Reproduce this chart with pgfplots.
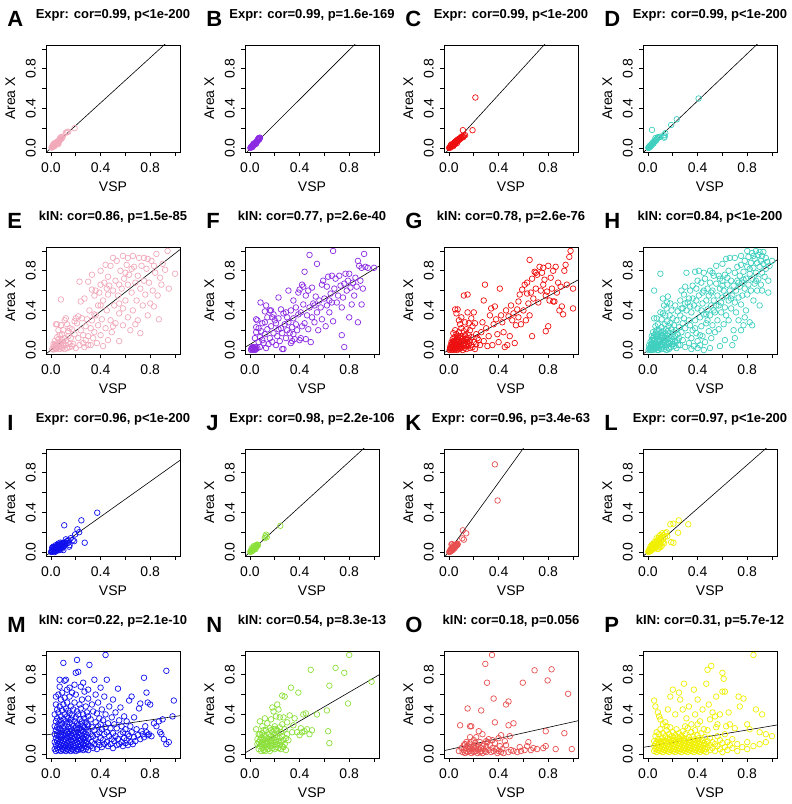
\documentclass[border=0pt]{standalone}
\usepackage{fontspec}
\setmainfont{Liberation Sans}
\usepackage{pgfplots}
\pgfplotsset{compat=1.18}
\definecolor{cA}{HTML}{F2AABB}
\definecolor{cB}{HTML}{8B2BE2}
\definecolor{cC}{HTML}{EE1010}
\definecolor{cD}{HTML}{40D0C0}
\definecolor{cI}{HTML}{1010EE}
\definecolor{cJ}{HTML}{8CE03A}
\definecolor{cK}{HTML}{E85050}
\definecolor{cL}{HTML}{F0F000}
\pgfplotsset{
 panel/.style={
  scale only axis, width=134pt, height=107pt, anchor=south west,
  xmin=-0.04, xmax=1.04, ymin=-0.04, ymax=1.04,
  xtick={0,0.2,0.4,0.6,0.8,1}, xticklabels={0.0,,0.4,,0.8,},
  ytick={0,0.2,0.4,0.6,0.8,1}, yticklabels={0.0,,0.4,,0.8,},
  xtick pos=bottom, ytick pos=left,
  tick align=outside, major tick length=4pt,
  every tick/.style={black, line width=0.7pt},
  axis line style={black, line width=0.8pt},
  ticklabel style={font=\fontsize{14}{14}\selectfont, inner sep=0pt},
  xticklabel style={anchor=north}, xticklabel shift=7pt,
  yticklabel style={rotate=90, anchor=south}, yticklabel shift=6pt,
  xlabel={VSP}, ylabel={Area X},
  xlabel style={font=\fontsize{14}{14}\selectfont, at={(axis description cs:0.5,-0.37)}, anchor=base},
  ylabel style={font=\fontsize{14}{14}\selectfont, at={(axis description cs:-0.23,0.5)}, anchor=base},
  title style={font=\bfseries\fontsize{13}{13}\selectfont, at={(axis description cs:0.5,1.19)}, anchor=base},
 },
 pts/.style={only marks, mark=o, mark size=2.8pt, color=#1, mark options={line width=0.7pt}},
 fit/.style={black, line width=0.6pt},
 let/.style={extra description/.code={\node[font=\bfseries\fontsize{22}{22}\selectfont, anchor=base west, inner sep=0pt] at (-0.29,1.17) {#1};}},
}
\begin{document}
\begin{tikzpicture}
\useasboundingbox (0,0) rectangle (792pt,804pt);
% ---------------- Row 1 ----------------
\begin{axis}[panel, at={(46pt,652pt)}, title={Expr: cor=0.99, p<1e-200}, let=A]
\addplot[pts=cA] coordinates {(0.005,0.004)(0.01,0.012)(0.012,0.02)(0.015,0.01)(0.018,0.025)(0.02,0.03)(0.022,0.018)(0.025,0.035)(0.028,0.027)(0.03,0.04)(0.032,0.05)(0.035,0.03)(0.038,0.045)(0.04,0.055)(0.042,0.038)(0.045,0.05)(0.048,0.06)(0.05,0.045)(0.052,0.065)(0.055,0.058)(0.06,0.07)(0.062,0.055)(0.065,0.075)(0.07,0.08)(0.072,0.095)(0.075,0.085)(0.078,0.1)(0.08,0.11)(0.085,0.095)(0.09,0.105)(0.095,0.115)(0.12,0.155)(0.13,0.16)(0.14,0.165)(0.19,0.2)(0.03,0.02)(0.02,0.04)(0.06,0.04)};
\addplot[fit] coordinates {(-0.04,-0.046)(1.04,1.186)};
\end{axis}
\begin{axis}[panel, at={(245pt,652pt)}, title={Expr: cor=0.99, p=1.6e-169}, let=B]
\addplot[pts=cB] coordinates {(0.003,0.002)(0.008,0.006)(0.01,0.012)(0.012,0.008)(0.015,0.018)(0.018,0.015)(0.02,0.022)(0.022,0.03)(0.025,0.024)(0.028,0.035)(0.03,0.03)(0.033,0.038)(0.036,0.042)(0.04,0.035)(0.04,0.048)(0.045,0.05)(0.048,0.055)(0.05,0.045)(0.052,0.06)(0.055,0.066)(0.058,0.07)(0.06,0.078)(0.063,0.085)(0.065,0.075)(0.068,0.09)(0.07,0.1)(0.072,0.095)(0.075,0.088)(0.078,0.1)(0.08,0.105)(0.02,0.01)(0.03,0.045)};
\addplot[fit] coordinates {(-0.04,-0.06)(1.04,1.29)};
\end{axis}
\begin{axis}[panel, at={(444pt,652pt)}, title={Expr: cor=0.99, p<1e-200}, let=C]
\addplot[pts=cC] coordinates {(0.002,0.001)(0.005,0.006)(0.008,0.004)(0.01,0.012)(0.012,0.009)(0.014,0.016)(0.016,0.012)(0.018,0.02)(0.02,0.025)(0.022,0.018)(0.024,0.03)(0.026,0.022)(0.028,0.034)(0.03,0.028)(0.032,0.038)(0.034,0.03)(0.036,0.042)(0.038,0.046)(0.04,0.036)(0.042,0.05)(0.044,0.055)(0.046,0.048)(0.048,0.06)(0.05,0.052)(0.052,0.065)(0.055,0.058)(0.058,0.07)(0.06,0.062)(0.062,0.075)(0.065,0.068)(0.068,0.08)(0.07,0.072)(0.072,0.085)(0.075,0.078)(0.078,0.09)(0.08,0.082)(0.083,0.095)(0.086,0.088)(0.09,0.1)(0.093,0.095)(0.097,0.11)(0.1,0.105)(0.105,0.115)(0.11,0.12)(0.115,0.11)(0.12,0.125)(0.13,0.13)(0.112,0.18)(0.19,0.18)(0.213,0.51)(0.015,0.03)(0.035,0.02)(0.05,0.04)(0.025,0.04)(0.065,0.05)};
\addplot[fit] coordinates {(-0.04,-0.065)(1.04,1.415)};
\end{axis}
\begin{axis}[panel, at={(643pt,652pt)}, title={Expr: cor=0.99, p<1e-200}, let=D]
\addplot[pts=cD] coordinates {(0.003,0.002)(0.006,0.008)(0.008,0.004)(0.01,0.012)(0.012,0.02)(0.015,0.01)(0.018,0.022)(0.02,0.016)(0.022,0.03)(0.025,0.025)(0.028,0.035)(0.03,0.03)(0.032,0.04)(0.035,0.05)(0.038,0.042)(0.04,0.055)(0.045,0.048)(0.048,0.06)(0.05,0.07)(0.055,0.065)(0.06,0.08)(0.065,0.075)(0.07,0.09)(0.075,0.1)(0.08,0.11)(0.085,0.105)(0.09,0.11)(0.1,0.115)(0.13,0.13)(0.135,0.115)(0.14,0.15)(0.13,0.105)(0.187,0.233)(0.232,0.29)(0.408,0.5)(0.032,0.183)(0.06,0.1)};
\addplot[fit] coordinates {(-0.04,-0.048)(1.04,1.238)};
\end{axis}
% ---------------- Row 2 ----------------
\begin{axis}[panel, at={(46pt,450pt)}, title={kIN: cor=0.86, p=1.5e-85}, let=E]
\addplot[pts=cA] coordinates {(0.01,0.01)(0.02,0.005)(0.02,0.03)(0.03,0.02)(0.03,0.05)(0.04,0.01)(0.04,0.04)(0.05,0.02)(0.05,0.07)(0.06,0.03)(0.06,0.05)(0.07,0.01)(0.07,0.08)(0.08,0.03)(0.08,0.06)(0.09,0.02)(0.09,0.1)(0.1,0.04)(0.1,0.07)(0.11,0.01)(0.11,0.12)(0.12,0.05)(0.12,0.09)(0.13,0.02)(0.14,0.14)(0.15,0.06)(0.04,0.26)(0.05,0.26)(0.06,0.2)(0.05,0.13)(0.07,0.15)(0.08,0.25)(0.03,0.09)(0.06,0.11)(0.02,0.06)(0.09,0.16)(0.1,0.2)(0.11,0.3)(0.13,0.26)(0.08,0.51)(0.14,0.19)(0.15,0.03)(0.16,0.12)(0.17,0.21)(0.18,0.06)(0.19,0.16)(0.2,0.32)(0.2,0.02)(0.21,0.27)(0.22,0.12)(0.23,0.69)(0.23,0.05)(0.24,0.49)(0.24,0.2)(0.25,0.32)(0.26,0.15)(0.27,0.52)(0.27,0.03)(0.28,0.24)(0.28,0.1)(0.29,0.31)(0.3,0.14)(0.3,0.69)(0.31,0.4)(0.32,0.05)(0.32,0.22)(0.33,0.76)(0.33,0.3)(0.34,0.12)(0.35,0.55)(0.35,0.18)(0.36,0.6)(0.36,0.35)(0.37,0.07)(0.38,0.45)(0.38,0.25)(0.39,0.58)(0.4,0.15)(0.4,0.66)(0.41,0.31)(0.42,0.04)(0.42,0.5)(0.43,0.68)(0.44,0.22)(0.44,0.86)(0.45,0.4)(0.46,0.56)(0.46,0.1)(0.47,0.65)(0.48,0.3)(0.48,0.85)(0.49,0.18)(0.5,0.6)(0.5,0.93)(0.51,0.45)(0.52,0.7)(0.52,0.27)(0.53,0.9)(0.54,0.55)(0.55,0.09)(0.55,0.37)(0.56,0.8)(0.57,0.62)(0.58,0.42)(0.58,0.25)(0.59,0.72)(0.6,0.5)(0.61,0.86)(0.62,0.33)(0.62,0.66)(0.63,0.76)(0.64,0.2)(0.65,0.58)(0.66,0.95)(0.66,0.4)(0.67,0.84)(0.68,0.68)(0.69,0.5)(0.7,0.75)(0.7,0.3)(0.71,0.93)(0.72,0.17)(0.72,0.62)(0.73,0.85)(0.74,0.45)(0.75,0.7)(0.76,0.56)(0.77,0.82)(0.78,0.35)(0.79,0.68)(0.8,0.47)(0.81,0.9)(0.82,0.6)(0.83,0.44)(0.84,0.78)(0.85,0.97)(0.86,0.55)(0.87,0.31)(0.88,0.73)(0.89,0.66)(0.9,0.87)(0.92,0.81)(0.94,1.0)(0.95,0.62)(1.0,0.77)(0.35,0.36)(0.45,0.62)(0.55,0.66)(0.6,0.78)(0.65,0.82)(0.75,0.93)(0.5,0.24)(0.4,0.45)(0.3,0.05)(0.17,0.04)(0.22,0.34)(0.26,0.07)(0.15,0.22)(0.12,0.32)(0.19,0.29)(0.62,0.93)(0.55,0.47)(0.68,0.26)(0.78,0.92)(0.83,0.85)(0.46,0.74)(0.33,0.61)(0.4,0.8)(0.58,0.95)};
\addplot[fit] coordinates {(-0.04,-0.039)(1.04,1.014)};
\end{axis}
\begin{axis}[panel, at={(245pt,450pt)}, title={kIN: cor=0.77, p=2.6e-40}, let=F]
\addplot[pts=cB] coordinates {(0.01,0.01)(0.015,0.02)(0.02,0.005)(0.02,0.015)(0.025,0.025)(0.03,0.01)(0.03,0.02)(0.035,0.005)(0.04,0.015)(0.045,0.03)(0.05,0.01)(0.06,0.02)(0.02,0.03)(0.01,0.0)(0.04,0.0)(0.04,0.12)(0.05,0.31)(0.05,0.18)(0.06,0.3)(0.07,0.08)(0.07,0.22)(0.08,0.13)(0.085,0.48)(0.09,0.19)(0.1,0.1)(0.1,0.27)(0.11,0.07)(0.12,0.39)(0.12,0.16)(0.13,0.45)(0.13,0.02)(0.14,0.21)(0.14,0.33)(0.15,0.06)(0.16,0.12)(0.16,0.4)(0.17,0.24)(0.18,0.08)(0.19,0.36)(0.19,0.17)(0.2,0.3)(0.21,0.05)(0.21,0.27)(0.22,0.14)(0.23,0.53)(0.23,0.32)(0.24,0.09)(0.25,0.41)(0.25,0.22)(0.26,0.17)(0.27,0.01)(0.27,0.37)(0.28,0.26)(0.29,0.12)(0.3,0.33)(0.3,0.2)(0.31,0.6)(0.31,0.28)(0.32,0.17)(0.33,0.4)(0.33,0.07)(0.34,0.23)(0.35,0.5)(0.35,0.32)(0.36,0.11)(0.37,0.26)(0.37,0.43)(0.38,0.2)(0.39,0.58)(0.39,0.36)(0.4,0.61)(0.4,0.1)(0.41,0.38)(0.42,0.66)(0.42,0.24)(0.43,0.64)(0.43,0.46)(0.44,0.79)(0.44,0.27)(0.45,0.55)(0.45,0.11)(0.46,0.35)(0.47,0.6)(0.47,0.21)(0.48,0.96)(0.48,0.43)(0.49,0.08)(0.5,0.33)(0.5,0.63)(0.51,0.47)(0.52,0.28)(0.53,0.54)(0.54,0.87)(0.54,0.38)(0.55,0.2)(0.56,0.5)(0.57,0.43)(0.58,0.31)(0.59,0.7)(0.6,0.52)(0.61,0.24)(0.62,0.64)(0.62,0.45)(0.63,0.74)(0.64,0.38)(0.65,0.57)(0.66,0.75)(0.66,0.48)(0.67,1.0)(0.67,0.29)(0.68,0.62)(0.69,0.72)(0.7,0.48)(0.71,0.55)(0.72,0.75)(0.73,0.65)(0.74,0.15)(0.74,0.43)(0.75,0.53)(0.76,0.03)(0.76,0.67)(0.77,0.77)(0.78,0.6)(0.79,0.7)(0.8,0.33)(0.8,0.77)(0.81,0.63)(0.82,0.46)(0.83,0.68)(0.84,0.55)(0.85,0.73)(0.86,0.64)(0.87,0.28)(0.87,0.9)(0.88,0.85)(0.89,0.7)(0.9,0.46)(0.9,0.83)(0.91,0.62)(0.92,0.97)(0.93,0.84)(0.95,0.83)(1.0,0.83)(0.05,0.23)(0.08,0.03)(0.12,0.28)(0.17,0.4)(0.26,0.01)(0.34,0.09)(0.41,0.12)(0.52,0.45)(0.58,0.66)(0.64,0.5)(0.35,0.16)(0.29,0.38)(0.23,0.21)(0.18,0.33)};
\addplot[fit] coordinates {(-0.04,0.027)(1.04,0.847)};
\end{axis}
\begin{axis}[panel, at={(444pt,450pt)}, title={kIN: cor=0.78, p=2.6e-76}, let=G]
\addplot[pts=cC] coordinates {(0.005,0.0)(0.01,0.01)(0.01,0.03)(0.015,0.05)(0.02,0.0)(0.02,0.02)(0.02,0.08)(0.025,0.04)(0.03,0.01)(0.03,0.06)(0.03,0.11)(0.035,0.03)(0.04,0.0)(0.04,0.05)(0.04,0.09)(0.045,0.02)(0.045,0.13)(0.05,0.04)(0.05,0.07)(0.055,0.01)(0.055,0.1)(0.06,0.03)(0.06,0.06)(0.065,0.0)(0.065,0.12)(0.07,0.05)(0.07,0.08)(0.075,0.02)(0.075,0.14)(0.08,0.04)(0.08,0.1)(0.085,0.01)(0.085,0.07)(0.09,0.05)(0.09,0.12)(0.095,0.02)(0.1,0.08)(0.1,0.03)(0.105,0.11)(0.11,0.0)(0.11,0.06)(0.115,0.13)(0.12,0.04)(0.12,0.09)(0.125,0.02)(0.13,0.07)(0.13,0.15)(0.135,0.05)(0.14,0.1)(0.14,0.01)(0.145,0.08)(0.15,0.04)(0.155,0.12)(0.16,0.06)(0.17,0.02)(0.17,0.09)(0.18,0.05)(0.18,0.13)(0.19,0.03)(0.2,0.08)(0.21,0.01)(0.22,0.06)(0.035,0.17)(0.05,0.2)(0.06,0.16)(0.08,0.18)(0.1,0.22)(0.12,0.19)(0.025,0.07)(0.035,0.09)(0.015,0.02)(0.07,0.11)(0.095,0.14)(0.06,0.09)(0.045,0.06)(0.085,0.03)(0.125,0.11)(0.16,0.15)(0.05,0.41)(0.07,0.41)(0.06,0.37)(0.08,0.3)(0.09,0.26)(0.1,0.33)(0.12,0.55)(0.13,0.28)(0.14,0.21)(0.15,0.56)(0.15,0.38)(0.16,0.27)(0.17,0.2)(0.18,0.32)(0.19,0.24)(0.2,0.38)(0.21,0.27)(0.22,0.16)(0.23,0.12)(0.24,0.1)(0.25,0.05)(0.26,0.18)(0.27,0.28)(0.28,0.5)(0.28,0.09)(0.29,0.66)(0.3,0.22)(0.31,0.04)(0.32,0.14)(0.33,0.35)(0.34,0.42)(0.35,0.05)(0.36,0.26)(0.37,0.44)(0.38,0.31)(0.39,0.16)(0.4,0.08)(0.41,0.62)(0.42,0.35)(0.43,0.28)(0.44,0.18)(0.45,0.03)(0.46,0.4)(0.47,0.05)(0.48,0.34)(0.49,0.14)(0.5,0.45)(0.51,0.3)(0.52,0.37)(0.53,0.07)(0.54,0.25)(0.55,0.41)(0.56,0.49)(0.57,0.56)(0.58,0.26)(0.59,0.61)(0.6,0.4)(0.61,0.66)(0.62,0.3)(0.63,0.57)(0.64,0.47)(0.65,0.91)(0.65,0.35)(0.66,0.58)(0.67,0.14)(0.67,0.72)(0.68,0.52)(0.69,0.79)(0.7,0.62)(0.71,0.76)(0.72,0.48)(0.73,0.84)(0.74,0.6)(0.75,0.78)(0.76,0.66)(0.77,0.71)(0.78,0.19)(0.78,0.55)(0.79,0.59)(0.8,0.24)(0.8,0.85)(0.81,0.5)(0.82,0.73)(0.83,0.62)(0.84,0.8)(0.85,0.49)(0.86,0.84)(0.87,0.58)(0.88,0.68)(0.89,0.4)(0.9,0.64)(0.91,0.44)(0.92,0.36)(0.93,0.8)(0.94,0.86)(0.95,0.66)(0.97,0.94)(0.98,1.0)(1.0,0.42)(1.0,0.62)(0.76,0.83)(0.63,0.68)(0.56,0.33)(0.7,0.78)(0.84,0.49)};
\addplot[fit] coordinates {(-0.04,-0.027)(1.04,0.707)};
\end{axis}
\begin{axis}[panel, at={(643pt,450pt)}, title={kIN: cor=0.84, p<1e-200}, let=H]
\addplot[pts=cD] coordinates {(0.005,0.0)(0.01,0.02)(0.01,0.05)(0.015,0.01)(0.02,0.03)(0.02,0.08)(0.025,0.0)(0.025,0.05)(0.03,0.02)(0.03,0.1)(0.035,0.04)(0.035,0.07)(0.04,0.0)(0.04,0.12)(0.045,0.03)(0.045,0.06)(0.05,0.09)(0.05,0.15)(0.055,0.01)(0.055,0.04)(0.06,0.07)(0.06,0.11)(0.065,0.18)(0.065,0.02)(0.07,0.05)(0.07,0.13)(0.075,0.09)(0.075,0.0)(0.08,0.03)(0.08,0.16)(0.085,0.06)(0.085,0.11)(0.09,0.2)(0.09,0.02)(0.095,0.08)(0.095,0.14)(0.1,0.04)(0.1,0.1)(0.105,0.17)(0.105,0.01)(0.11,0.06)(0.11,0.23)(0.115,0.12)(0.115,0.03)(0.12,0.08)(0.12,0.15)(0.125,0.19)(0.125,0.05)(0.13,0.1)(0.13,0.01)(0.135,0.13)(0.135,0.26)(0.14,0.07)(0.14,0.17)(0.145,0.03)(0.145,0.21)(0.15,0.11)(0.15,0.05)(0.155,0.15)(0.155,0.29)(0.16,0.08)(0.16,0.19)(0.165,0.02)(0.165,0.24)(0.17,0.12)(0.17,0.06)(0.175,0.17)(0.18,0.09)(0.18,0.27)(0.185,0.03)(0.19,0.14)(0.19,0.21)(0.195,0.06)(0.2,0.11)(0.2,0.32)(0.205,0.18)(0.21,0.04)(0.21,0.25)(0.215,0.08)(0.22,0.14)(0.225,0.2)(0.23,0.02)(0.23,0.3)(0.235,0.1)(0.24,0.16)(0.245,0.05)(0.25,0.23)(0.25,0.12)(0.03,0.14)(0.04,0.18)(0.06,0.24)(0.07,0.2)(0.05,0.32)(0.08,0.26)(0.1,0.38)(0.11,0.31)(0.12,0.37)(0.13,0.45)(0.14,0.35)(0.1,0.77)(0.05,0.6)(0.07,0.32)(0.12,0.52)(0.15,0.42)(0.16,0.54)(0.18,0.47)(0.02,0.0)(0.045,0.1)(0.065,0.14)(0.085,0.0)(0.095,0.04)(0.125,0.09)(0.15,0.0)(0.17,0.01)(0.2,0.06)(0.22,0.09)(0.175,0.35)(0.19,0.4)(0.155,0.48)(0.06,0.03)(0.03,0.06)(0.11,0.14)(0.14,0.12)(0.26,0.35)(0.26,0.05)(0.27,0.42)(0.27,0.18)(0.28,0.27)(0.28,0.1)(0.29,0.56)(0.29,0.32)(0.3,0.03)(0.3,0.22)(0.31,0.4)(0.31,0.78)(0.32,0.15)(0.32,0.48)(0.33,0.3)(0.33,0.07)(0.34,0.6)(0.34,0.25)(0.35,0.38)(0.35,0.12)(0.36,0.52)(0.36,0.2)(0.37,0.04)(0.37,0.45)(0.38,0.79)(0.38,0.3)(0.39,0.62)(0.39,0.17)(0.4,0.42)(0.4,0.09)(0.41,0.8)(0.41,0.55)(0.42,0.33)(0.42,0.05)(0.43,0.68)(0.43,0.24)(0.44,0.47)(0.44,0.14)(0.45,0.6)(0.45,0.36)(0.46,0.72)(0.46,0.08)(0.47,0.5)(0.47,0.27)(0.48,0.41)(0.48,0.62)(0.49,0.19)(0.49,0.55)(0.5,0.35)(0.5,0.68)(0.51,0.45)(0.51,0.12)(0.52,0.6)(0.52,0.25)(0.53,0.75)(0.53,0.5)(0.54,0.38)(0.54,0.18)(0.55,0.67)(0.55,0.45)(0.56,0.55)(0.56,0.3)(0.57,0.75)(0.57,0.21)(0.58,0.04)(0.58,0.62)(0.59,0.48)(0.59,0.38)(0.6,0.7)(0.6,0.53)(0.61,0.26)(0.61,0.6)(0.62,0.76)(0.62,0.43)(0.63,0.55)(0.63,0.35)(0.64,0.66)(0.64,0.73)(0.65,0.5)(0.65,0.3)(0.66,0.93)(0.66,0.6)(0.67,0.42)(0.67,0.7)(0.68,0.05)(0.68,0.55)(0.69,0.65)(0.69,0.2)(0.7,0.78)(0.7,0.48)(0.71,0.6)(0.71,0.38)(0.72,0.7)(0.72,0.84)(0.73,0.53)(0.73,0.3)(0.74,0.64)(0.74,0.75)(0.75,0.46)(0.75,0.86)(0.76,0.68)(0.76,0.55)(0.77,0.25)(0.77,0.79)(0.78,0.62)(0.78,0.9)(0.79,0.72)(0.79,0.4)(0.8,0.84)(0.8,0.56)(0.81,0.66)(0.81,0.94)(0.82,0.28)(0.82,0.77)(0.83,0.88)(0.83,0.6)(0.84,0.98)(0.84,0.72)(0.85,0.5)(0.85,0.83)(0.86,0.92)(0.86,0.67)(0.87,1.0)(0.87,0.78)(0.88,0.88)(0.88,0.6)(0.89,0.96)(0.89,0.72)(0.9,0.84)(0.9,0.99)(0.91,0.9)(0.91,0.66)(0.92,0.78)(0.92,0.95)(0.93,0.87)(0.94,0.74)(0.95,0.93)(0.95,0.82)(0.96,0.89)(0.97,0.7)(0.98,0.85)(1.0,0.9)(0.6,0.87)(0.63,0.92)(0.55,0.85)(0.5,0.8)(0.45,0.78)(0.7,0.93)(0.75,0.95)(0.8,1.0)(0.85,0.95)(0.93,0.99)(0.28,0.42)(0.33,0.52)(0.4,0.7)(0.44,0.58)(0.3,0.47)(0.36,0.65)(0.52,0.78)(0.58,0.72)(0.65,0.8)(0.35,0.01)(0.4,0.02)(0.45,0.0)(0.5,0.02)(0.42,0.15)(0.38,0.22)(0.62,0.1)(0.7,0.12)(0.75,0.2)(0.78,0.33)(0.84,0.25)(0.9,0.45)(0.97,0.58)(0.48,0.3)(0.53,0.4)(0.57,0.45)(0.26,0.5)(0.24,0.39)(0.22,0.45)(0.27,0.6)(0.3,0.64)(0.34,0.44)(0.39,0.5)(0.43,0.4)(0.47,0.36)(0.51,0.58)(0.6,0.65)(0.67,0.52)(0.73,0.68)(0.77,0.71)(0.82,0.82)(0.87,0.7)(0.92,0.6)};
\addplot[fit] coordinates {(-0.04,-0.04)(1.04,0.91)};
\end{axis}
% ---------------- Row 3 ----------------
\begin{axis}[panel, at={(46pt,248pt)}, title={Expr: cor=0.96, p<1e-200}, let=I]
\addplot[pts=cI] coordinates {(0.002,0.0)(0.005,0.01)(0.008,0.003)(0.01,0.02)(0.012,0.008)(0.015,0.04)(0.018,0.015)(0.02,0.03)(0.022,0.05)(0.025,0.01)(0.028,0.025)(0.03,0.045)(0.032,0.02)(0.035,0.035)(0.038,0.055)(0.04,0.01)(0.042,0.04)(0.045,0.025)(0.048,0.06)(0.05,0.045)(0.052,0.03)(0.055,0.055)(0.058,0.07)(0.06,0.04)(0.062,0.02)(0.065,0.06)(0.068,0.075)(0.07,0.05)(0.072,0.035)(0.075,0.065)(0.078,0.08)(0.08,0.055)(0.082,0.045)(0.085,0.07)(0.088,0.09)(0.09,0.06)(0.093,0.08)(0.095,0.05)(0.1,0.075)(0.1,0.02)(0.105,0.09)(0.11,0.065)(0.115,0.1)(0.12,0.128)(0.125,0.085)(0.13,0.11)(0.135,0.09)(0.14,0.12)(0.147,0.054)(0.15,0.07)(0.107,0.27)(0.187,0.11)(0.195,0.178)(0.213,0.229)(0.227,0.2)(0.245,0.32)(0.272,0.094)(0.373,0.397)(0.16,0.14)(0.175,0.12)(0.01,0.045)(0.02,0.055)(0.04,0.07)(0.06,0.085)(0.075,0.095)(0.03,0.0)(0.05,0.015)(0.07,0.02)(0.09,0.035)};
\addplot[fit] coordinates {(-0.04,-0.036)(1.04,0.926)};
\end{axis}
\begin{axis}[panel, at={(245pt,248pt)}, title={Expr: cor=0.98, p=2.2e-106}, let=J]
\addplot[pts=cJ] coordinates {(0.003,0.002)(0.006,0.01)(0.01,0.005)(0.012,0.015)(0.015,0.02)(0.018,0.01)(0.02,0.025)(0.022,0.03)(0.025,0.018)(0.028,0.035)(0.03,0.028)(0.033,0.04)(0.035,0.05)(0.038,0.035)(0.04,0.045)(0.042,0.06)(0.045,0.05)(0.048,0.065)(0.05,0.055)(0.053,0.07)(0.055,0.06)(0.058,0.075)(0.06,0.065)(0.065,0.07)(0.015,0.04)(0.03,0.06)(0.045,0.03)(0.12,0.14)(0.125,0.16)(0.13,0.175)(0.135,0.15)(0.245,0.265)};
\addplot[fit] coordinates {(-0.04,-0.046)(1.04,1.186)};
\end{axis}
\begin{axis}[panel, at={(444pt,248pt)}, title={Expr: cor=0.96, p=3.4e-63}, let=K]
\addplot[pts=cK] coordinates {(0.003,0.0)(0.006,0.008)(0.01,0.004)(0.012,0.015)(0.015,0.01)(0.018,0.025)(0.02,0.077)(0.022,0.02)(0.025,0.08)(0.028,0.03)(0.03,0.045)(0.032,0.025)(0.035,0.05)(0.038,0.04)(0.04,0.06)(0.042,0.035)(0.045,0.055)(0.048,0.065)(0.05,0.05)(0.052,0.07)(0.055,0.06)(0.058,0.075)(0.06,0.065)(0.062,0.08)(0.065,0.07)(0.068,0.085)(0.07,0.075)(0.107,0.138)(0.112,0.219)(0.12,0.125)(0.139,0.189)(0.37,0.885)(0.392,0.52)(0.015,0.03)(0.025,0.015)(0.035,0.07)};
\addplot[fit] coordinates {(-0.04,-0.059)(1.04,1.809)};
\end{axis}
\begin{axis}[panel, at={(643pt,248pt)}, title={Expr: cor=0.97, p<1e-200}, let=L]
\addplot[pts=cL] coordinates {(0.003,0.0)(0.005,0.01)(0.008,0.005)(0.01,0.02)(0.012,0.012)(0.015,0.03)(0.018,0.008)(0.02,0.025)(0.022,0.04)(0.025,0.015)(0.028,0.035)(0.03,0.05)(0.032,0.025)(0.035,0.045)(0.038,0.06)(0.04,0.03)(0.042,0.055)(0.045,0.07)(0.048,0.04)(0.05,0.06)(0.052,0.08)(0.055,0.05)(0.058,0.075)(0.06,0.09)(0.062,0.06)(0.065,0.1)(0.068,0.07)(0.07,0.085)(0.072,0.11)(0.075,0.065)(0.078,0.095)(0.08,0.12)(0.082,0.08)(0.085,0.14)(0.088,0.1)(0.09,0.16)(0.092,0.07)(0.095,0.13)(0.1,0.17)(0.1,0.05)(0.105,0.11)(0.11,0.15)(0.115,0.19)(0.12,0.13)(0.125,0.17)(0.13,0.09)(0.135,0.15)(0.14,0.19)(0.15,0.2)(0.155,0.16)(0.187,0.1)(0.205,0.094)(0.18,0.28)(0.205,0.286)(0.243,0.195)(0.248,0.32)(0.325,0.28)(0.02,0.055)(0.04,0.08)(0.06,0.04)(0.08,0.03)(0.1,0.08)(0.07,0.14)(0.05,0.1)(0.03,0.07)(0.09,0.045)(0.11,0.06)(0.12,0.1)};
\addplot[fit] coordinates {(-0.04,-0.044)(1.04,1.144)};
\end{axis}
% ---------------- Row 4 ----------------
\begin{axis}[panel, at={(46pt,46pt)}, title={kIN: cor=0.22, p=2.1e-10}, let=M]
\addplot[pts=cI] coordinates {(0.03,0.05)(0.03,0.12)(0.03,0.2)(0.03,0.28)(0.03,0.4)(0.04,0.03)(0.04,0.09)(0.04,0.16)(0.04,0.24)(0.04,0.33)(0.04,0.5)(0.04,0.58)(0.05,0.06)(0.05,0.13)(0.05,0.19)(0.05,0.27)(0.05,0.36)(0.05,0.45)(0.06,0.04)(0.06,0.1)(0.06,0.15)(0.06,0.22)(0.06,0.3)(0.06,0.42)(0.06,0.6)(0.07,0.07)(0.07,0.12)(0.07,0.18)(0.07,0.25)(0.07,0.34)(0.07,0.48)(0.07,0.75)(0.08,0.03)(0.08,0.09)(0.08,0.14)(0.08,0.2)(0.08,0.29)(0.08,0.38)(0.08,0.55)(0.09,0.05)(0.09,0.11)(0.09,0.17)(0.09,0.23)(0.09,0.31)(0.09,0.44)(0.09,0.62)(0.1,0.04)(0.1,0.08)(0.1,0.13)(0.1,0.19)(0.1,0.26)(0.1,0.35)(0.1,0.5)(0.1,0.92)(0.11,0.06)(0.11,0.1)(0.11,0.15)(0.11,0.21)(0.11,0.28)(0.11,0.4)(0.11,0.57)(0.11,0.74)(0.12,0.03)(0.12,0.09)(0.12,0.14)(0.12,0.18)(0.12,0.24)(0.12,0.33)(0.12,0.46)(0.13,0.05)(0.13,0.11)(0.13,0.16)(0.13,0.22)(0.13,0.3)(0.13,0.38)(0.13,0.52)(0.13,0.65)(0.14,0.04)(0.14,0.08)(0.14,0.13)(0.14,0.2)(0.14,0.27)(0.14,0.36)(0.14,0.44)(0.15,0.06)(0.15,0.1)(0.15,0.17)(0.15,0.23)(0.15,0.32)(0.15,0.41)(0.15,0.58)(0.16,0.03)(0.16,0.09)(0.16,0.14)(0.16,0.19)(0.16,0.26)(0.16,0.35)(0.16,0.48)(0.17,0.05)(0.17,0.12)(0.17,0.18)(0.17,0.24)(0.17,0.3)(0.17,0.39)(0.17,0.62)(0.18,0.04)(0.18,0.08)(0.18,0.15)(0.18,0.21)(0.18,0.28)(0.18,0.45)(0.19,0.06)(0.19,0.11)(0.19,0.17)(0.19,0.23)(0.19,0.33)(0.19,0.52)(0.19,0.7)(0.2,0.03)(0.2,0.09)(0.2,0.14)(0.2,0.2)(0.2,0.27)(0.2,0.37)(0.2,0.6)(0.21,0.05)(0.21,0.12)(0.21,0.18)(0.21,0.25)(0.21,0.31)(0.21,0.43)(0.21,0.95)(0.22,0.04)(0.22,0.1)(0.22,0.16)(0.22,0.22)(0.22,0.29)(0.22,0.4)(0.22,0.83)(0.23,0.07)(0.23,0.13)(0.23,0.19)(0.23,0.26)(0.23,0.35)(0.23,0.5)(0.24,0.05)(0.24,0.09)(0.24,0.15)(0.24,0.21)(0.24,0.3)(0.24,0.46)(0.24,0.68)(0.25,0.06)(0.25,0.12)(0.25,0.18)(0.25,0.24)(0.25,0.33)(0.25,0.55)(0.26,0.04)(0.26,0.1)(0.26,0.16)(0.26,0.23)(0.26,0.28)(0.26,0.4)(0.27,0.08)(0.27,0.14)(0.27,0.2)(0.27,0.27)(0.27,0.36)(0.27,0.63)(0.28,0.05)(0.28,0.11)(0.28,0.17)(0.28,0.25)(0.28,0.32)(0.28,0.48)(0.29,0.07)(0.29,0.13)(0.29,0.19)(0.29,0.3)(0.29,0.42)(0.3,0.04)(0.3,0.1)(0.3,0.16)(0.3,0.22)(0.3,0.29)(0.3,0.38)(0.3,0.56)(0.31,0.9)(0.32,0.08)(0.32,0.2)(0.32,0.35)(0.33,0.12)(0.33,0.27)(0.33,0.5)(0.34,0.06)(0.34,0.18)(0.34,0.43)(0.35,0.1)(0.35,0.24)(0.35,0.75)(0.36,0.15)(0.36,0.32)(0.36,0.6)(0.37,0.05)(0.37,0.2)(0.37,0.41)(0.38,0.12)(0.38,0.28)(0.38,0.52)(0.39,0.09)(0.39,0.22)(0.39,0.36)(0.4,0.16)(0.4,0.3)(0.4,0.67)(0.41,0.07)(0.41,0.25)(0.41,0.45)(0.42,0.14)(0.42,0.34)(0.43,0.1)(0.43,0.2)(0.43,0.58)(0.44,1.0)(0.44,0.27)(0.44,0.4)(0.45,0.12)(0.45,0.22)(0.45,0.75)(0.46,0.08)(0.46,0.31)(0.47,0.18)(0.47,0.48)(0.48,0.1)(0.48,0.26)(0.49,0.15)(0.49,0.37)(0.5,0.06)(0.5,0.21)(0.5,0.55)(0.51,0.13)(0.51,0.3)(0.52,0.18)(0.52,0.42)(0.53,0.09)(0.53,0.26)(0.54,0.15)(0.54,0.66)(0.55,0.1)(0.55,0.34)(0.56,0.2)(0.56,0.47)(0.57,0.12)(0.57,0.28)(0.58,0.08)(0.58,0.22)(0.59,0.16)(0.59,0.38)(0.6,0.11)(0.6,0.25)(0.61,0.14)(0.61,0.33)(0.62,0.09)(0.62,0.2)(0.63,0.18)(0.63,0.54)(0.64,0.12)(0.64,0.28)(0.65,0.22)(0.65,0.58)(0.66,0.1)(0.67,0.17)(0.67,0.37)(0.68,0.13)(0.69,0.25)(0.7,0.19)(0.71,0.46)(0.72,0.51)(0.72,0.15)(0.73,0.23)(0.74,0.2)(0.75,0.77)(0.75,0.17)(0.76,0.28)(0.77,0.22)(0.77,0.62)(0.78,0.19)(0.78,0.52)(0.79,0.2)(0.8,0.5)(0.81,0.18)(0.83,0.31)(0.85,0.28)(0.87,0.33)(0.88,0.22)(0.89,0.2)(0.9,0.35)(0.91,0.15)(0.93,0.84)(0.93,0.1)(0.95,0.12)(0.98,0.38)(0.99,0.54)(0.2,0.82)(0.15,0.67)(0.12,0.75)(0.07,0.68)(0.26,0.72)(0.3,0.65)};
\addplot[fit] coordinates {(-0.04,0.193)(1.04,0.387)};
\end{axis}
\begin{axis}[panel, at={(245pt,46pt)}, title={kIN: cor=0.54, p=8.3e-13}, let=N]
\addplot[pts=cJ] coordinates {(0.05,0.25)(0.06,0.1)(0.06,0.15)(0.07,0.05)(0.07,0.12)(0.07,0.2)(0.08,0.08)(0.08,0.14)(0.08,0.33)(0.09,0.03)(0.09,0.1)(0.09,0.17)(0.1,0.06)(0.1,0.12)(0.1,0.21)(0.11,0.09)(0.11,0.15)(0.11,0.04)(0.12,0.11)(0.12,0.18)(0.12,0.36)(0.13,0.07)(0.13,0.13)(0.13,0.24)(0.14,0.1)(0.14,0.16)(0.14,0.31)(0.15,0.05)(0.15,0.12)(0.15,0.2)(0.16,0.08)(0.16,0.14)(0.16,0.26)(0.17,0.11)(0.17,0.18)(0.17,0.35)(0.18,0.06)(0.18,0.13)(0.18,0.22)(0.18,0.47)(0.19,0.09)(0.19,0.16)(0.19,0.43)(0.2,0.12)(0.2,0.19)(0.2,0.28)(0.21,0.07)(0.21,0.14)(0.21,0.38)(0.22,0.1)(0.22,0.17)(0.22,0.24)(0.22,0.5)(0.23,0.06)(0.23,0.13)(0.23,0.21)(0.23,0.45)(0.24,0.09)(0.24,0.16)(0.24,0.37)(0.25,0.12)(0.25,0.22)(0.26,0.08)(0.26,0.18)(0.26,0.59)(0.27,0.14)(0.27,0.37)(0.28,0.58)(0.28,0.1)(0.28,0.25)(0.29,0.04)(0.3,0.2)(0.3,0.32)(0.31,0.14)(0.32,0.39)(0.33,0.67)(0.34,0.22)(0.35,0.29)(0.36,0.36)(0.38,0.22)(0.39,0.62)(0.4,0.19)(0.41,0.26)(0.42,0.22)(0.43,0.4)(0.44,0.23)(0.45,0.41)(0.46,0.25)(0.48,0.2)(0.49,0.85)(0.5,0.24)(0.54,0.4)(0.62,0.44)(0.63,0.23)(0.64,0.11)(0.64,0.69)(0.69,0.87)(0.76,0.82)(0.79,0.51)(0.8,1.0)(0.98,0.73)(0.1,0.28)(0.12,0.03)(0.14,0.05)(0.16,0.03)(0.19,0.25)(0.21,0.25)(0.25,0.05)(0.27,0.07)(0.13,0.18)(0.15,0.15)(0.17,0.24)(0.2,0.05)(0.24,0.27)(0.08,0.2)(0.11,0.24)(0.26,0.3)(0.29,0.16)};
\addplot[fit] coordinates {(-0.04,0.011)(1.04,0.799)};
\end{axis}
\begin{axis}[panel, at={(444pt,46pt)}, title={kIN: cor=0.18, p=0.056}, let=O]
\addplot[pts=cK] coordinates {(0.08,0.03)(0.1,0.06)(0.11,0.02)(0.12,0.09)(0.12,0.04)(0.13,0.1)(0.13,0.01)(0.14,0.06)(0.14,0.03)(0.15,0.08)(0.15,0.02)(0.16,0.05)(0.16,0.1)(0.17,0.03)(0.17,0.07)(0.18,0.01)(0.18,0.12)(0.19,0.05)(0.19,0.03)(0.2,0.08)(0.2,0.02)(0.21,0.06)(0.21,0.11)(0.22,0.03)(0.22,0.07)(0.23,0.01)(0.23,0.09)(0.24,0.05)(0.25,0.02)(0.25,0.12)(0.26,0.06)(0.26,0.03)(0.27,0.08)(0.27,0.01)(0.28,0.05)(0.28,0.1)(0.29,0.03)(0.3,0.07)(0.3,0.02)(0.31,0.12)(0.32,0.04)(0.33,0.09)(0.34,0.02)(0.35,0.14)(0.35,0.06)(0.36,0.03)(0.37,0.11)(0.38,0.05)(0.39,0.01)(0.4,0.16)(0.4,0.03)(0.41,0.08)(0.42,0.02)(0.43,0.05)(0.44,0.01)(0.45,0.13)(0.46,0.09)(0.48,0.02)(0.49,0.18)(0.5,0.04)(0.52,0.03)(0.55,0.02)(0.57,0.07)(0.58,0.03)(0.61,0.04)(0.63,0.08)(0.64,0.12)(0.66,0.04)(0.68,0.06)(0.71,0.05)(0.76,0.06)(0.78,0.08)(0.86,0.05)(0.99,0.05)(0.09,0.29)(0.17,0.28)(0.18,0.28)(0.24,0.23)(0.27,0.2)(0.17,0.17)(0.37,0.32)(0.48,0.29)(0.52,0.31)(0.78,0.23)(0.93,0.21)(0.15,0.46)(0.26,0.44)(0.46,0.5)(0.48,0.53)(0.36,0.56)(0.307,0.72)(0.293,0.91)(0.347,1.0)(0.595,0.72)(0.69,0.845)(0.795,0.743)(0.827,0.855)(0.96,0.608)(0.2,0.14)(0.3,0.13)(0.42,0.19)(0.22,0.17)(0.14,0.12)(0.32,0.15)};
\addplot[fit] coordinates {(-0.04,0.034)(1.04,0.336)};
\end{axis}
\begin{axis}[panel, at={(643pt,46pt)}, title={kIN: cor=0.31, p=5.7e-12}, let=P]
\addplot[pts=cL] coordinates {(0.05,0.03)(0.05,0.08)(0.05,0.13)(0.06,0.05)(0.06,0.1)(0.06,0.18)(0.07,0.02)(0.07,0.07)(0.07,0.12)(0.07,0.22)(0.08,0.04)(0.08,0.09)(0.08,0.15)(0.09,0.06)(0.09,0.11)(0.09,0.2)(0.1,0.03)(0.1,0.08)(0.1,0.13)(0.1,0.25)(0.11,0.05)(0.11,0.1)(0.11,0.16)(0.12,0.02)(0.12,0.07)(0.12,0.12)(0.12,0.21)(0.13,0.04)(0.13,0.09)(0.13,0.14)(0.14,0.06)(0.14,0.11)(0.14,0.18)(0.15,0.03)(0.15,0.08)(0.15,0.13)(0.15,0.24)(0.16,0.05)(0.16,0.1)(0.16,0.16)(0.17,0.02)(0.17,0.07)(0.17,0.12)(0.17,0.2)(0.18,0.04)(0.18,0.09)(0.18,0.15)(0.18,0.27)(0.19,0.06)(0.19,0.11)(0.19,0.18)(0.2,0.03)(0.2,0.08)(0.2,0.13)(0.2,0.22)(0.21,0.05)(0.21,0.1)(0.21,0.16)(0.22,0.02)(0.22,0.07)(0.22,0.12)(0.22,0.19)(0.23,0.04)(0.23,0.09)(0.23,0.14)(0.23,0.25)(0.24,0.06)(0.24,0.11)(0.24,0.17)(0.25,0.03)(0.25,0.08)(0.25,0.13)(0.25,0.21)(0.26,0.05)(0.26,0.1)(0.26,0.15)(0.27,0.02)(0.27,0.07)(0.27,0.12)(0.27,0.18)(0.28,0.04)(0.28,0.09)(0.28,0.14)(0.28,0.23)(0.29,0.06)(0.29,0.11)(0.29,0.16)(0.3,0.03)(0.3,0.08)(0.3,0.13)(0.3,0.2)(0.31,0.05)(0.31,0.1)(0.31,0.15)(0.32,0.02)(0.32,0.07)(0.32,0.12)(0.32,0.26)(0.33,0.04)(0.33,0.09)(0.33,0.17)(0.34,0.06)(0.34,0.11)(0.34,0.14)(0.35,0.03)(0.35,0.08)(0.35,0.13)(0.35,0.22)(0.36,0.05)(0.36,0.1)(0.36,0.18)(0.37,0.02)(0.37,0.07)(0.37,0.12)(0.38,0.04)(0.38,0.09)(0.38,0.15)(0.38,0.24)(0.39,0.06)(0.39,0.11)(0.4,0.03)(0.4,0.08)(0.4,0.13)(0.4,0.19)(0.41,0.05)(0.41,0.1)(0.41,0.16)(0.42,0.02)(0.42,0.07)(0.42,0.12)(0.43,0.04)(0.43,0.09)(0.43,0.21)(0.44,0.06)(0.44,0.14)(0.45,0.03)(0.45,0.08)(0.45,0.11)(0.46,0.05)(0.46,0.17)(0.47,0.02)(0.47,0.1)(0.48,0.07)(0.48,0.13)(0.48,0.24)(0.5,0.04)(0.5,0.09)(0.5,0.16)(0.52,0.06)(0.52,0.12)(0.54,0.03)(0.54,0.1)(0.56,0.08)(0.56,0.18)(0.58,0.05)(0.58,0.14)(0.6,0.02)(0.6,0.11)(0.62,0.07)(0.62,0.2)(0.64,0.04)(0.64,0.12)(0.66,0.09)(0.68,0.06)(0.68,0.15)(0.72,0.03)(0.72,0.1)(0.76,0.07)(0.8,0.05)(0.8,0.12)(0.85,0.08)(0.9,0.1)(0.95,0.12)(1.0,0.18)(0.05,0.54)(0.06,0.48)(0.08,0.42)(0.09,0.38)(0.1,0.35)(0.12,0.3)(0.14,0.32)(0.16,0.45)(0.18,0.58)(0.2,0.65)(0.22,0.4)(0.25,0.62)(0.26,0.55)(0.28,0.45)(0.29,0.71)(0.31,0.36)(0.33,0.48)(0.35,0.3)(0.37,0.65)(0.38,0.4)(0.4,0.55)(0.42,0.33)(0.44,0.45)(0.47,0.71)(0.48,0.85)(0.49,0.5)(0.5,0.35)(0.51,0.89)(0.52,0.42)(0.54,0.38)(0.55,0.58)(0.56,0.3)(0.58,0.4)(0.6,0.82)(0.61,0.76)(0.6,0.63)(0.62,0.63)(0.63,0.28)(0.65,0.42)(0.66,0.3)(0.7,0.26)(0.73,0.58)(0.74,0.48)(0.77,0.56)(0.8,0.3)(0.82,0.25)(0.85,1.0)(0.87,0.45)(0.92,0.4)(0.95,0.2)(0.45,0.25)(0.55,0.27)(0.3,0.28)(0.4,0.3)(0.15,0.28)(0.9,0.22)};
\addplot[fit] coordinates {(-0.04,0.067)(1.04,0.293)};
\end{axis}
\end{tikzpicture}
\end{document}
